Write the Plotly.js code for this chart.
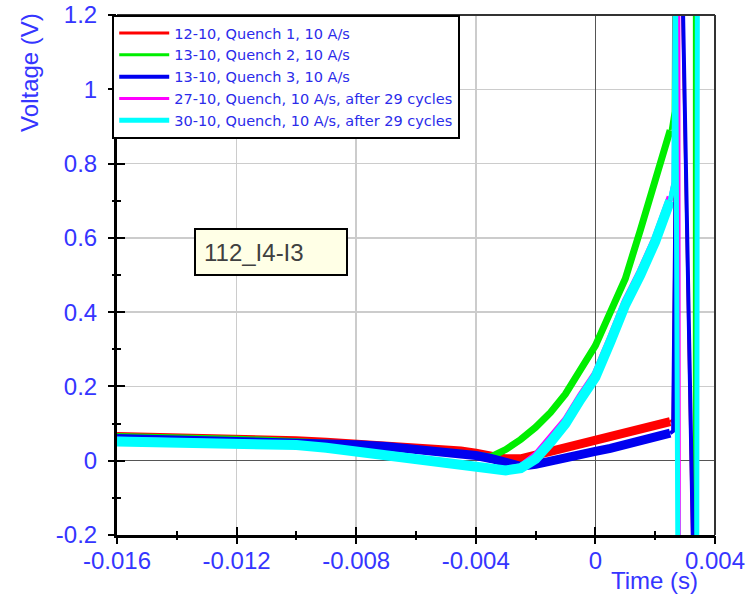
<!DOCTYPE html>
<html>
<head>
<meta charset="utf-8">
<script src="https://cdn.plot.ly/plotly-3.0.1.min.js"></script>
<style>
  html, body { margin: 0; padding: 0; background: #ffffff; }
  #chart { width: 748px; height: 594px; }
</style>
</head>
<body>
<div id="chart"></div>
<script>
// Time base (s) shared by the pre-quench part of every record
const TIME = [-0.016, -0.015, -0.014, -0.013, -0.012, -0.011, -0.010, -0.009, -0.008,
              -0.007, -0.006, -0.005, -0.0045, -0.004, -0.0035, -0.003, -0.0025, -0.002,
              -0.0015, -0.001, -0.0005, 0, 0.0005, 0.001, 0.0015, 0.002, 0.0025];

// Voltage (V) of each record on TIME
const V_Q1 = [0.065, 0.064, 0.062, 0.060, 0.058, 0.056, 0.054, 0.050, 0.046,
              0.042, 0.038, 0.030, 0.026, 0.020, 0.012, 0.005, 0.005, 0.015,
              0.025, 0.035, 0.046, 0.055, 0.065, 0.075, 0.083, 0.092, 0.105];
const V_Q2 = [0.065, 0.064, 0.062, 0.060, 0.058, 0.055, 0.052, 0.048, 0.044,
              0.038, 0.032, 0.025, 0.020, 0.015, 0.010, 0.030, 0.057, 0.090,
              0.130, 0.180, 0.245, 0.310, 0.400, 0.490, 0.620, 0.750, 0.890];
const V_Q3 = [0.060, 0.058, 0.058, 0.057, 0.055, 0.053, 0.050, 0.048, 0.043,
              0.038, 0.032, 0.025, 0.020, 0.014, 0.006, -0.004, -0.015, -0.010,
              0.000, 0.010, 0.017, 0.025, 0.033, 0.042, 0.050, 0.060, 0.074];
const V_C27 = [0.055, 0.054, 0.053, 0.051, 0.049, 0.046, 0.044, 0.037, 0.027,
               0.015, 0.006, -0.006, -0.011, -0.017, -0.023, -0.024, -0.016, 0.015,
               0.060, 0.110, 0.175, 0.235, 0.330, 0.430, 0.510, 0.600, 0.710];
const V_C30 = [0.052, 0.051, 0.050, 0.049, 0.047, 0.044, 0.042, 0.035, 0.025,
               0.013, 0.004, -0.008, -0.013, -0.019, -0.025, -0.026, -0.020, 0.005,
               0.050, 0.100, 0.165, 0.225, 0.320, 0.420, 0.500, 0.590, 0.700];

// Quench transients: the signal leaves the scale upwards, then downwards
const T_Q1_TAIL  = [0.0025, 0.0026, 0.00274, 0.00290, 0.00327];
const V_Q1_TAIL  = [0.105, 0.110, 1.3, 1.3, -0.3];
const T_Q2_TAIL  = [0.0025, 0.0026, 0.00262, 0.00331, 0.00331];
const V_Q2_TAIL  = [0.890, 0.940, 1.3, 1.3, -0.3];
const T_Q3_TAIL  = [0.0025, 0.0026, 0.00275, 0.00291, 0.00328];
const V_Q3_TAIL  = [0.074, 0.080, 1.3, 1.3, -0.3];
const T_C27_TAIL = [0.0025, 0.0026, 0.00264, 0.00279, 0.00281, 0.00338, 0.00340];
const V_C27_TAIL = [0.710, 0.750, 1.3, 1.3, -0.3, -0.3, 1.3];
const T_C30_TAIL = [0.0025, 0.00262, 0.00268, 0.00276, 0.00339, 0.00341];
const V_C30_TAIL = [0.700, 0.745, 1.3, -0.3, -0.3, 1.3];

const SERIES_NAMES = [
  '12-10, Quench 1, 10 A/s',
  '13-10, Quench 2, 10 A/s',
  '13-10, Quench 3, 10 A/s',
  '27-10, Quench, 10 A/s, after 29 cycles',
  '30-10, Quench, 10 A/s, after 29 cycles'
];

// Axis ticks
const X_TICKS = [-0.016, -0.012, -0.008, -0.004, 0, 0.004];
const X_TICK_TEXT = ['-0.016', '-0.012', '-0.008', '-0.004', '0', '0.004'];
const Y_TICKS = [-0.2, 0, 0.2, 0.4, 0.6, 0.8, 1, 1.2];
const Y_TICK_TEXT = ['-0.2', '0', '0.2', '0.4', '0.6', '0.8', '1', '1.2'];

const COLORS = ['#ff0000', '#00ee00', '#0000f0', '#ff00ff', '#00ffff'];
const BAND_WIDTH = [9, 7, 9, 7, 10];
const TAIL_WIDTH = [3, 3, 4, 3, 5];

const bands = [V_Q1, V_Q2, V_Q3, V_C27, V_C30];
const tails = [[T_Q1_TAIL, V_Q1_TAIL], [T_Q2_TAIL, V_Q2_TAIL], [T_Q3_TAIL, V_Q3_TAIL],
               [T_C27_TAIL, V_C27_TAIL], [T_C30_TAIL, V_C30_TAIL]];

const traces = [];
bands.forEach((v, i) => {
  traces.push({
    x: TIME, y: v, type: 'scatter', mode: 'lines',
    name: SERIES_NAMES[i], legendgroup: 'g' + i, showlegend: false,
    line: { color: COLORS[i], width: BAND_WIDTH[i] }, hoverinfo: 'skip'
  });
});
tails.forEach((tv, i) => {
  traces.push({
    x: tv[0], y: tv[1], type: 'scatter', mode: 'lines',
    name: SERIES_NAMES[i], legendgroup: 'g' + i, showlegend: true,
    line: { color: COLORS[i], width: TAIL_WIDTH[i] }, hoverinfo: 'skip'
  });
});
// invisible copy on the overlay axes, which carry the outer half of the tick marks
traces.push({ x: TIME, y: V_Q1, xaxis: 'x2', yaxis: 'y2', type: 'scatter', mode: 'lines',
              line: { width: 0 }, opacity: 0, showlegend: false, hoverinfo: 'skip' });

const FONT = 'Liberation Sans, Arial, sans-serif';
const tickFont = { family: FONT, size: 24, color: '#3535ff' };

const layout = {
  width: 748, height: 594,
  margin: { l: 117, r: 33, t: 15, b: 59, pad: 0 },
  paper_bgcolor: '#ffffff', plot_bgcolor: '#ffffff',
  showlegend: true,
  xaxis: {
    range: [-0.016, 0.004], tickmode: 'array', tickvals: X_TICKS, ticktext: X_TICK_TEXT,
    tickfont: tickFont, ticks: 'inside', ticklen: 8, tickwidth: 2, tickcolor: '#000',
    ticklabelstandoff: 2,
    minor: { tickmode: 'linear', tick0: 0, dtick: 0.002, ticks: 'inside', ticklen: 4,
             tickwidth: 2, tickcolor: '#000', showgrid: false },
    showgrid: true, gridcolor: '#cccccc', gridwidth: 1.5,
    zeroline: true, zerolinecolor: '#555555', zerolinewidth: 1.5,
    showline: true, linecolor: '#000000', linewidth: 3, mirror: false
  },
  yaxis: {
    range: [-0.2, 1.2], tickmode: 'array', tickvals: Y_TICKS, ticktext: Y_TICK_TEXT,
    tickfont: tickFont, ticks: 'inside', ticklen: 8, tickwidth: 2, tickcolor: '#000',
    ticklabelstandoff: 12,
    minor: { tickmode: 'linear', tick0: 0, dtick: 0.1, ticks: 'inside', ticklen: 4,
             tickwidth: 2, tickcolor: '#000', showgrid: false },
    showgrid: true, gridcolor: '#cccccc', gridwidth: 1.5,
    zeroline: true, zerolinecolor: '#555555', zerolinewidth: 1.5,
    showline: true, linecolor: '#000000', linewidth: 3, mirror: false
  },
  xaxis2: {
    overlaying: 'x', anchor: 'y2', side: 'bottom', range: [-0.016, 0.004],
    tickmode: 'array', tickvals: X_TICKS, showticklabels: false,
    ticks: 'outside', ticklen: 8, tickwidth: 2, tickcolor: '#000',
    minor: { tickmode: 'linear', tick0: 0, dtick: 0.002, ticks: 'outside', ticklen: 4,
             tickwidth: 2, tickcolor: '#000', showgrid: false },
    showgrid: false, zeroline: false, showline: false
  },
  yaxis2: {
    overlaying: 'y', anchor: 'x2', side: 'left', range: [-0.2, 1.2],
    tickmode: 'array', tickvals: Y_TICKS, showticklabels: false,
    ticks: 'outside', ticklen: 8, tickwidth: 2, tickcolor: '#000',
    minor: { tickmode: 'linear', tick0: 0, dtick: 0.1, ticks: 'outside', ticklen: 4,
             tickwidth: 2, tickcolor: '#000', showgrid: false },
    showgrid: false, zeroline: false, showline: false
  },
  legend: {
    x: -0.008, y: 1.0, xanchor: 'left', yanchor: 'top',
    bgcolor: '#ffffff', bordercolor: '#000000', borderwidth: 2,
    font: { family: 'DejaVu Sans, Verdana, sans-serif', size: 14.5, color: '#2b2bea' },
    tracegroupgap: 0, itemwidth: 50
  },
  shapes: [
    // top and right frame of the plotting area
    { type: 'line', xref: 'paper', yref: 'paper', x0: 0, x1: 1, y0: 1, y1: 1,
      line: { color: '#333333', width: 2 } },
    { type: 'line', xref: 'paper', yref: 'paper', x0: 1, x1: 1, y0: 0, y1: 1,
      line: { color: '#333333', width: 2 } }
  ],
  annotations: [
    { text: '112_I4-I3', xref: 'paper', yref: 'paper', x: 0.258, y: 0.544,
      xanchor: 'center', yanchor: 'middle', showarrow: false, align: 'left',
      width: 134, height: 28, borderpad: 8, borderwidth: 2, bordercolor: '#000000',
      bgcolor: '#ffffe6',
      font: { family: FONT, size: 24, color: '#404040' } },
    { text: 'Voltage (V)', xref: 'paper', yref: 'paper', x: -0.146, y: 0.89,
      xanchor: 'center', yanchor: 'middle', textangle: -90, showarrow: false,
      font: { family: FONT, size: 24, color: '#3535ff' } },
    { text: 'Time (s)', xref: 'paper', yref: 'paper', x: 0.898, y: -0.088,
      xanchor: 'center', yanchor: 'middle', showarrow: false,
      font: { family: FONT, size: 24, color: '#3535ff' } }
  ]
};

Plotly.newPlot('chart', traces, layout, { displayModeBar: false, staticPlot: true });
</script>
</body>
</html>
